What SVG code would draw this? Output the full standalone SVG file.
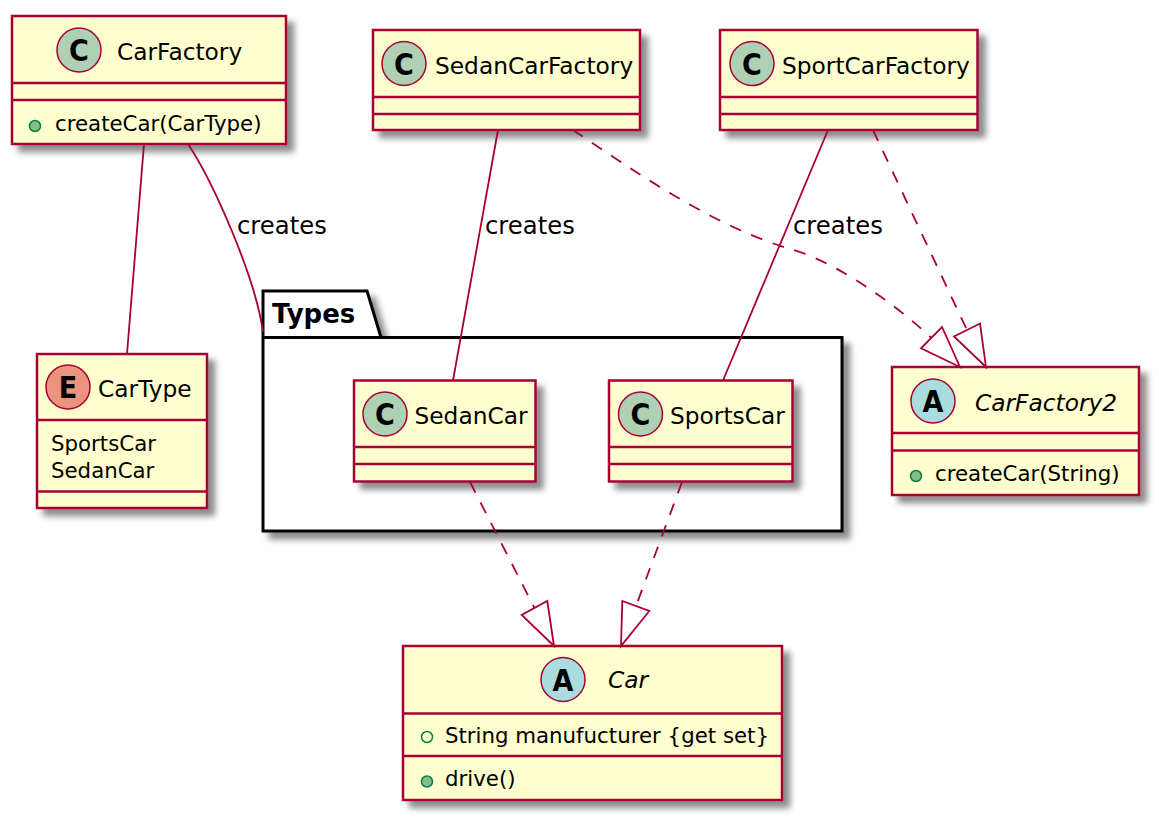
<svg xmlns="http://www.w3.org/2000/svg" width="1159" height="820" viewBox="0 0 1159 820">
<defs>
<filter id="sh" x="-10%" y="-10%" width="130%" height="130%">
<feGaussianBlur in="SourceAlpha" stdDeviation="3"/>
<feOffset dx="7" dy="7" result="b"/>
<feComponentTransfer><feFuncA type="linear" slope="0.45"/></feComponentTransfer>
<feMerge><feMergeNode/><feMergeNode in="SourceGraphic"/></feMerge>
</filter>
</defs>
<style>
.box{fill:#FEFECE;stroke:#A80036;stroke-width:2.5;filter:url(#sh)}
.dv{stroke:#A80036;stroke-width:2.5}
.pkg{fill:#FFFFFF;stroke:#000000;stroke-width:3;filter:url(#sh)}
.ci{stroke:#A80036;stroke-width:1.5}
.cc{fill:#ADD1B2}.ce{fill:#EB937F}.ca{fill:#A9DCDF}
.gl{font-family:"DejaVu Sans Condensed","DejaVu Sans",sans-serif;font-weight:bold;font-size:30px;text-anchor:middle;fill:#000}
.hd{font-family:"DejaVu Sans",sans-serif;font-size:23.3px;fill:#000}
.it{font-style:italic}
.mb{font-family:"DejaVu Sans",sans-serif;font-size:21.3px;fill:#000}
.lb{font-family:"DejaVu Sans",sans-serif;font-size:24.3px;fill:#000}
.pt{font-family:"DejaVu Sans",sans-serif;font-size:26px;font-weight:bold;fill:#000}
.pm{fill:#84BE84;stroke:#038048;stroke-width:1.5}
.pf{fill:none;stroke:#038048;stroke-width:1.5}
.ln{fill:none;stroke:#A80036;stroke-width:1.8}
.dl{fill:none;stroke:#A80036;stroke-width:1.8;stroke-dasharray:12,11}
.ah{fill:none;stroke:#A80036;stroke-width:1.8;stroke-linejoin:miter}
</style>

<g id="Types">
<path class="pkg" d="M263,291 L367,291 L381,337.5 L842,337.5 L842,531 L263,531 Z"/>
<line x1="263" y1="337.5" x2="381" y2="337.5" stroke="#000" stroke-width="3"/>
<text class="pt" x="272" y="323">Types</text>
</g>

<g id="CarFactory">
<rect class="box" x="12" y="16" width="274" height="128"/>
<line class="dv" x1="12" y1="83" x2="286" y2="83"/>
<line class="dv" x1="12" y1="100" x2="286" y2="100"/>
<circle class="ci cc" cx="79" cy="50" r="22"/>
<text class="gl" x="79" y="61">C</text>
<text class="hd" x="117" y="60">CarFactory</text>
<circle class="pm" cx="35" cy="126" r="5.5"/>
<text class="mb" x="55" y="130.5">createCar(CarType)</text>
</g>

<g id="SedanCarFactory">
<rect class="box" x="373" y="30" width="267" height="100"/>
<line class="dv" x1="373" y1="97" x2="640" y2="97"/>
<line class="dv" x1="373" y1="114" x2="640" y2="114"/>
<circle class="ci cc" cx="404" cy="63.5" r="22"/>
<text class="gl" x="404" y="74.5">C</text>
<text class="hd" x="435" y="73.5">SedanCarFactory</text>
</g>

<g id="SportCarFactory">
<rect class="box" x="720" y="30" width="257.5" height="100"/>
<line class="dv" x1="720" y1="97" x2="977.5" y2="97"/>
<line class="dv" x1="720" y1="114" x2="977.5" y2="114"/>
<circle class="ci cc" cx="752" cy="63.5" r="22"/>
<text class="gl" x="752" y="74.5">C</text>
<text class="hd" x="782" y="73.5">SportCarFactory</text>
</g>

<g id="CarType">
<rect class="box" x="37" y="354" width="170" height="154"/>
<line class="dv" x1="37" y1="420" x2="207" y2="420"/>
<line class="dv" x1="37" y1="491.5" x2="207" y2="491.5"/>
<circle class="ci ce" cx="68" cy="387" r="22"/>
<text class="gl" x="68" y="398">E</text>
<text class="hd" x="98" y="396.5">CarType</text>
<text class="mb" x="51" y="450.5">SportsCar</text>
<text class="mb" x="51" y="477.5">SedanCar</text>
</g>

<g id="CarFactory2">
<rect class="box" x="892" y="367" width="247" height="128"/>
<line class="dv" x1="892" y1="433" x2="1139" y2="433"/>
<line class="dv" x1="892" y1="450.5" x2="1139" y2="450.5"/>
<circle class="ci ca" cx="933" cy="401" r="22"/>
<text class="gl" x="933" y="412">A</text>
<text class="hd it" x="975" y="410.5">CarFactory2</text>
<circle class="pm" cx="916" cy="476" r="5.5"/>
<text class="mb" x="935" y="481">createCar(String)</text>
</g>

<g id="SedanCar">
<rect class="box" x="354" y="380.5" width="181.5" height="101"/>
<line class="dv" x1="354" y1="447" x2="535.5" y2="447"/>
<line class="dv" x1="354" y1="464" x2="535.5" y2="464"/>
<circle class="ci cc" cx="385" cy="414" r="22"/>
<text class="gl" x="385" y="425">C</text>
<text class="hd" x="414.5" y="424">SedanCar</text>
</g>

<g id="SportsCar">
<rect class="box" x="609" y="380.5" width="183.5" height="101"/>
<line class="dv" x1="609" y1="447" x2="792.5" y2="447"/>
<line class="dv" x1="609" y1="464" x2="792.5" y2="464"/>
<circle class="ci cc" cx="640.5" cy="414" r="22"/>
<text class="gl" x="640.5" y="425">C</text>
<text class="hd" x="670" y="424">SportsCar</text>
</g>

<g id="Car">
<rect class="box" x="403" y="646" width="379" height="154"/>
<line class="dv" x1="403" y1="713.5" x2="782" y2="713.5"/>
<line class="dv" x1="403" y1="756" x2="782" y2="756"/>
<circle class="ci ca" cx="563" cy="679.5" r="22"/>
<text class="gl" x="563" y="690.5">A</text>
<text class="hd it" x="608" y="688">Car</text>
<circle class="pf" cx="427" cy="737" r="5.5"/>
<text class="mb" x="445" y="743">String manufucturer {get set}</text>
<circle class="pm" cx="427" cy="781.5" r="5.5"/>
<text class="mb" x="445" y="785.5">drive()</text>
</g>

<g id="connectors">
<path class="ln" d="M144,144 L127,354"/>
<path class="ln" d="M188,144 C212,180 255,275 263,332"/>
<text class="lb" x="237" y="234">creates</text>
<path class="ln" d="M498,130 L453,380.5"/>
<text class="lb" x="485" y="233.5">creates</text>
<path class="ln" d="M828,130 L723,380.5"/>
<text class="lb" x="793" y="234">creates</text>
<path class="dl" d="M573,130 C630,168 710,225 790,249 C820,256 880,290 931.5,338"/>
<polygon class="ah" points="960,367 921,348.3 942,327"/>
<path class="dl" d="M873,130 L967,330"/>
<polygon class="ah" points="986,367 954,336.5 980,323.5"/>
<path class="dl" d="M470,482 L534.5,608"/>
<polygon class="ah" points="554,646 521.7,615 547.3,601"/>
<path class="dl" d="M682,482 L636,606"/>
<polygon class="ah" points="621,646 622.3,601 649.3,611"/>
</g>
</svg>
